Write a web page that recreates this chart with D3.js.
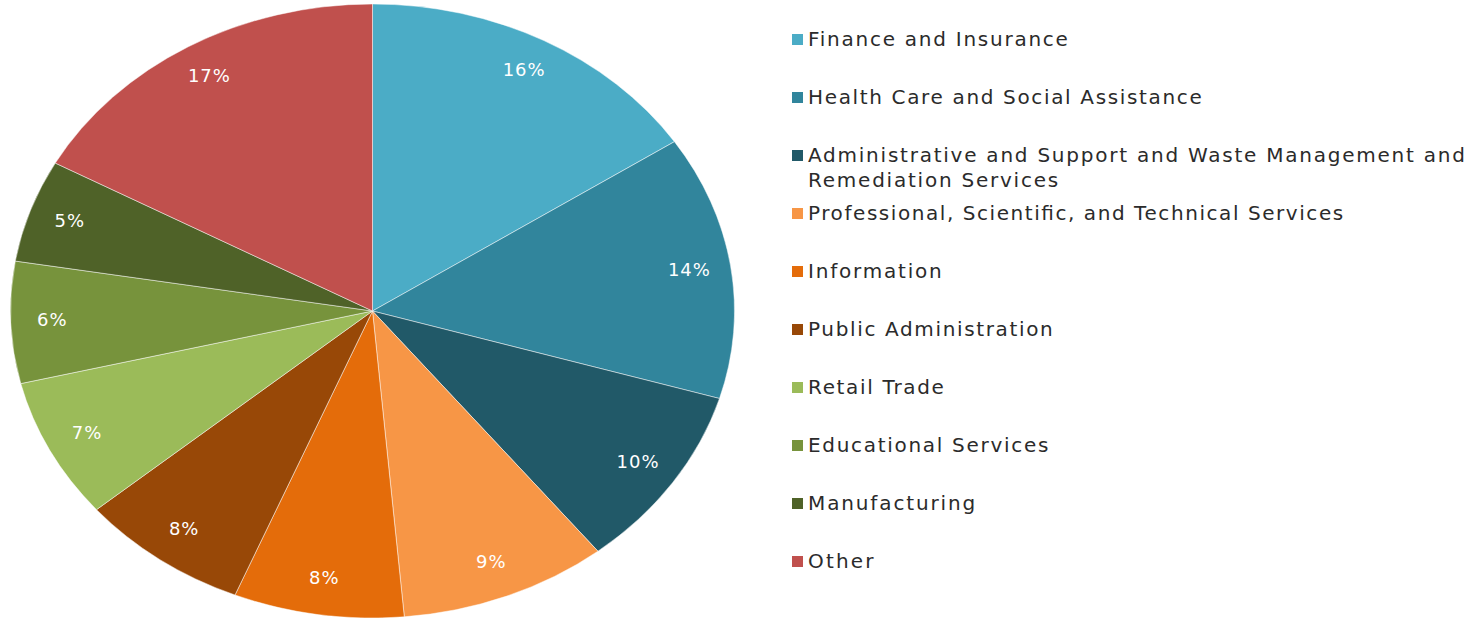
<!DOCTYPE html>
<html>
<head>
<meta charset="utf-8">
<script src="https://cdn.jsdelivr.net/npm/d3@7"></script>
<style>
  html, body { margin: 0; padding: 0; background: #ffffff; }
  svg { display: block; }
</style>
</head>
<body>
<svg id="chart" width="1483" height="618"></svg>
<script>
const categories = [
  "Finance and Insurance",
  "Health Care and Social Assistance",
  "Administrative and Support and Waste Management and Remediation Services",
  "Professional, Scientific, and Technical Services",
  "Information",
  "Public Administration",
  "Retail Trade",
  "Educational Services",
  "Manufacturing",
  "Other"
];
const values = [15.7, 13.9, 9.7, 9.3, 7.6, 7.6, 7.4, 6.4, 5.4, 17.0];
const valueLabels = ["16%", "14%", "10%", "9%", "8%", "8%", "7%", "6%", "5%", "17%"];
const legendLines = [
  ["Finance and Insurance"],
  ["Health Care and Social Assistance"],
  ["Administrative and Support and Waste Management and", "Remediation Services"],
  ["Professional, Scientific, and Technical Services"],
  ["Information"],
  ["Public Administration"],
  ["Retail Trade"],
  ["Educational Services"],
  ["Manufacturing"],
  ["Other"]
];
const colors = ["#4BACC6", "#31859C", "#215968", "#F79646", "#E46C0A",
                "#984807", "#9BBB59", "#77933C", "#4F6228", "#C0504D"];

const FONT = "'DejaVu Sans', sans-serif";
const svg = d3.select("#chart");
const cx = 372.5, cy = 311, rx = 362, ry = 307;

const color = d3.scaleOrdinal().domain(categories).range(colors);
const pie = d3.pie().sort(null).value(d => d.value);
const data = categories.map((c, i) => ({ name: c, value: values[i], label: valueLabels[i] }));
const arcs = pie(data);
const arc = d3.arc().innerRadius(0).outerRadius(ry);

const g = svg.append("g").attr("transform", `translate(${cx},${cy}) scale(${rx / ry},1)`);
g.selectAll("path").data(arcs).join("path")
  .attr("d", arc)
  .attr("fill", d => color(d.data.name))
  .attr("stroke", "#ffffff")
  .attr("stroke-opacity", 0.6)
  .attr("stroke-width", 0.8)
  .attr("vector-effect", "non-scaling-stroke");

const f = 0.885;
svg.append("g").selectAll("text").data(arcs).join("text")
  .attr("x", d => { const a = (d.startAngle + d.endAngle) / 2; return cx + f * rx * Math.sin(a); })
  .attr("y", d => { const a = (d.startAngle + d.endAngle) / 2; return cy - f * ry * Math.cos(a) - 2; })
  .attr("text-anchor", "middle")
  .attr("dominant-baseline", "central")
  .attr("fill", "#ffffff")
  .style("font-family", FONT)
  .style("font-size", "18px")
  .style("letter-spacing", "1px")
  .text(d => d.data.label);

// legend
const widen = 1.155;
const legend = svg.append("g");
const rowY = d3.scaleLinear().domain([0, 1]).range([39, 97]);
categories.forEach((c, i) => {
  const y = rowY(i);
  legend.append("rect")
    .attr("x", 792).attr("y", y - 5).attr("width", 11).attr("height", 11)
    .attr("fill", color(c));
  legendLines[i].forEach((line, j) => {
    const t = legend.append("text")
      .attr("x", 808).attr("y", y + j * 25)
      .attr("dominant-baseline", "central")
      .attr("fill", "#2b2b2b")
      .style("font-family", FONT)
      .style("font-size", "20px")
      .text(line);
    const len = t.node().getComputedTextLength();
    t.attr("textLength", len * widen).attr("lengthAdjust", "spacing");
  });
});
</script>
</body>
</html>
